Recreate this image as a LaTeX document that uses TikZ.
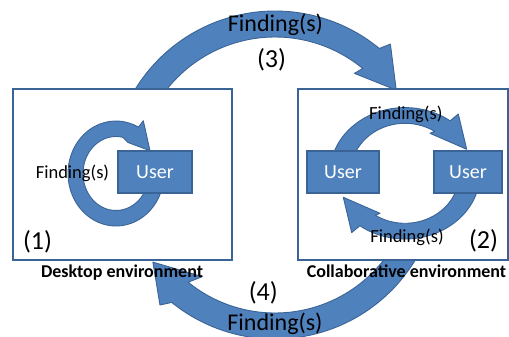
\documentclass[tikz,border=0pt]{standalone}
\usepackage{fontspec}
\setmainfont{Carlito}
\definecolor{ppblue}{HTML}{4F81BD}
\definecolor{ppedge}{HTML}{3B6496}

\begin{document}
\begin{tikzpicture}[x=1pt,y=1pt,
band/.style={fill=ppblue,draw=ppedge,line width=0.9pt,line join=round},
envbox/.style={draw=ppedge,line width=1.2pt,fill=white,minimum height=171},
userbox/.style={draw=ppedge,line width=1.2pt,fill=ppblue,text=white,minimum height=42,font=\fontsize{20}{24}\selectfont},
bigtxt/.style={font=\fontsize{24}{28}\selectfont,anchor=base,inner sep=0pt},
numtxt/.style={font=\fontsize{26}{30}\selectfont,anchor=base,inner sep=0pt},
smalltxt/.style={font=\fontsize{18.5}{22}\selectfont,anchor=base,inner sep=0pt},
envtxt/.style={font=\bfseries\fontsize{18}{22}\selectfont,anchor=base,inner sep=0pt}]
\useasboundingbox (0,0) rectangle (509,-337);
% big arrows between the two environments
\begin{scope}[shift={(275,-175)}]
\draw[band] (160:164) arc[start angle=160,end angle=50.5,radius=164] -- (48.6:174.5) -- (35:148) -- (52:129) -- (50.5:138) arc[start angle=50.5,end angle=160,radius=138] -- cycle;
\draw[band] (335:164) arc[start angle=335,end angle=231,radius=164] -- (228.5:173.6) -- (215.5:150) -- (234.4:125) -- (231:138) arc[start angle=231,end angle=335,radius=138] -- cycle;
\end{scope}
\node[envbox,minimum width=219] (desktop) at (122.5,-174.5) {};
\node[envbox,minimum width=210] (collab) at (403,-174.5) {};
% loop of the single user
\begin{scope}[shift={(116,-173.5)}]
\draw[band] (-10:48 and 52.5) arc[start angle=-10,end angle=-298,x radius=48,y radius=52.5] -- (27.3,52.8) -- (34,22.8) -- (12,31) -- (-282:33 and 37) arc[start angle=-282,end angle=-10,x radius=33,y radius=37] -- cycle;
\end{scope}
% exchange between the two users
\begin{scope}[shift={(405,-173.3)}]
\draw[band] (170:75 and 65.7) arc[start angle=170,end angle=53,x radius=75,y radius=65.7] -- (53.3,59.3) -- (61.7,24) -- (25,40) -- (57:54.6 and 50) arc[start angle=57,end angle=170,x radius=54.6,y radius=50] -- cycle;
\draw[band] (-10:75 and 65.7) arc[start angle=-10,end angle=-127,x radius=75,y radius=65.7] -- (-53.3,-59.3) -- (-61.7,-24) -- (-25,-40) -- (-123:54.6 and 50) arc[start angle=-123,end angle=-10,x radius=54.6,y radius=50] -- cycle;
\end{scope}
\node[userbox,minimum width=74] (deskuser) at (155,-172) {User};
\node[userbox,minimum width=72] (userA) at (343,-172) {User};
\node[userbox,minimum width=68] (userB) at (468,-172) {User};
% labels
\node[bigtxt] (topfind) at (275.5,-32) {Finding(s)};
\node[numtxt] (n3) at (271.5,-67) {(3)};
\node[bigtxt] (botfind) at (275,-330) {Finding(s)};
\node[numtxt] (n4) at (263.3,-300) {(4)};
\node[smalltxt] (deskfind) at (72.5,-178.3) {Finding(s)};
\node[smalltxt] (topcoll) at (405.8,-119.5) {Finding(s)};
\node[smalltxt] (botcoll) at (407,-242) {Finding(s)};
\node[numtxt] (n1) at (37.5,-249) {(1)};
\node[numtxt] (n2) at (483.5,-248) {(2)};
\node[envtxt] (desklbl) at (122,-277) {Desktop environment};
\node[envtxt] (colllbl) at (406.5,-277) {Collaborative environment};
\end{tikzpicture}
\end{document}
